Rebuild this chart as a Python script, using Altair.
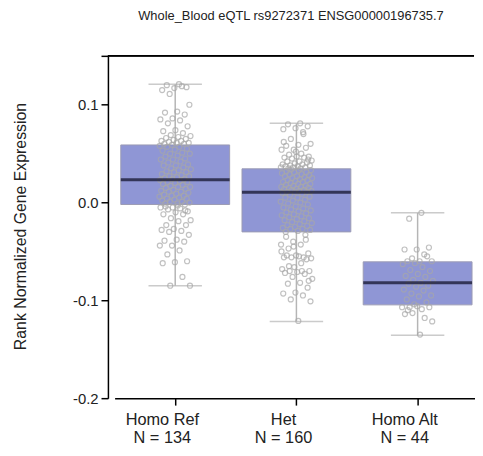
import altair as alt
import pandas as pd

genotypes = ["Homo Ref", "Het", "Homo Alt"]
counts = [134, 160, 44]
q1 = [-0.002, -0.030, -0.1046]
median = [0.0234, 0.0105, -0.082]
q3 = [0.0589, 0.0345, -0.0606]
whisk_lo = [-0.085, -0.1215, -0.1357]
whisk_hi = [0.121, 0.081, -0.0105]

homo_ref_vals = [
    0.121, 0.120, 0.118, 0.117, 0.115, 0.119, 0.111, 0.100, 0.093, 0.092,
    0.090, 0.086, 0.085, 0.084, 0.081, 0.078, 0.074, 0.073, 0.071, 0.069,
    0.068, 0.067, 0.066, 0.065, 0.064, 0.063, 0.063, 0.062, 0.061, 0.061,
    0.060, 0.060, 0.059,
    0.058, 0.057, 0.057, 0.055, 0.054, 0.053, 0.051, 0.050, 0.050, 0.048,
    0.047, 0.045, 0.044, 0.044, 0.042, 0.041, 0.039, 0.038, 0.038, 0.036,
    0.035, 0.034, 0.033, 0.032, 0.031, 0.031, 0.029, 0.028, 0.027, 0.027,
    0.026, 0.025, 0.024, 0.024,
    0.023, 0.022, 0.021, 0.021, 0.020, 0.019, 0.018, 0.017, 0.016, 0.016,
    0.015, 0.014, 0.013, 0.012, 0.011, 0.011, 0.010, 0.009, 0.008, 0.007,
    0.007, 0.006, 0.005, 0.004, 0.004, 0.003, 0.002, 0.001, 0.001, 0.000,
    -0.001, -0.001, -0.002,
    -0.005, -0.005, -0.006, -0.007, -0.009, -0.010, -0.012, -0.012, -0.016, -0.018,
    -0.019, -0.023, -0.023, -0.027, -0.028, -0.029, -0.030, -0.033, -0.038, -0.039,
    -0.040, -0.044, -0.044, -0.049, -0.053, -0.060, -0.061, -0.062, -0.076, -0.085,
    -0.085, -0.003, -0.004, -0.008,
]

het_vals = [
    0.081, 0.080, 0.078, 0.076, 0.075, 0.072, 0.065, 0.060, 0.059, 0.058,
    0.056, 0.054, 0.054, 0.050, 0.049, 0.047, 0.047, 0.046, 0.046, 0.045,
    0.043, 0.042, 0.042, 0.041, 0.040, 0.039, 0.039, 0.038, 0.038, 0.037,
    0.037, 0.036, 0.036, 0.036, 0.035, 0.035, 0.044, 0.052, 0.062, 0.070,
    0.034, 0.033, 0.033, 0.032, 0.031, 0.031, 0.030, 0.029, 0.029, 0.028,
    0.027, 0.027, 0.026, 0.025, 0.025, 0.024, 0.023, 0.023, 0.022, 0.021,
    0.021, 0.020, 0.019, 0.019, 0.018, 0.017, 0.017, 0.016, 0.016, 0.015,
    0.015, 0.014, 0.014, 0.013, 0.013, 0.012, 0.012, 0.011, 0.011, 0.011,
    0.010, 0.009, 0.008, 0.006, 0.005, 0.005, 0.003, 0.002, 0.001, 0.000,
    -0.001, -0.002, -0.004, -0.005, -0.006, -0.007, -0.008, -0.009, -0.010, -0.011,
    -0.012, -0.013, -0.014, -0.015, -0.016, -0.017, -0.018, -0.019, -0.020, -0.021,
    -0.022, -0.023, -0.024, -0.025, -0.026, -0.027, -0.027, -0.028, -0.029, -0.030,
    -0.033, -0.040, -0.043, -0.043, -0.047, -0.052, -0.054, -0.056, -0.056, -0.056,
    -0.057, -0.055, -0.054, -0.058, -0.066, -0.068, -0.070, -0.070, -0.070, -0.071,
    -0.072, -0.073, -0.076, -0.078, -0.082, -0.083, -0.087, -0.092, -0.093, -0.095,
    -0.099, -0.101, -0.121, -0.035, -0.038, -0.045, -0.050, -0.062, -0.065, -0.080,
]

homo_alt_vals = [
    -0.0105, -0.0165, -0.046, -0.048, -0.048, -0.053, -0.057, -0.060, -0.060, -0.060,
    -0.055,
    -0.062, -0.063, -0.066, -0.069, -0.070, -0.073, -0.075, -0.076, -0.079, -0.080,
    -0.082,
    -0.083, -0.085, -0.086, -0.089, -0.090, -0.093, -0.095, -0.096, -0.099, -0.102,
    -0.104,
    -0.107, -0.109, -0.107, -0.107, -0.106, -0.114, -0.118, -0.113, -0.1215, -0.135,
    -0.110,
]

stats = pd.DataFrame({
    "genotype": genotypes, "q1": q1, "median": median, "q3": q3,
    "lo": whisk_lo, "hi": whisk_hi,
})

pts = pd.DataFrame({
    "genotype": ["Homo Ref"] * len(homo_ref_vals) + ["Het"] * len(het_vals)
    + ["Homo Alt"] * len(homo_alt_vals),
    "value": homo_ref_vals + het_vals + homo_alt_vals,
})

label_map = " : ".join(
    f"datum.label == '{g}' ? ['{g}', 'N = {n}']" for g, n in zip(genotypes, counts)
) + " : datum.label"

xscale = alt.Scale(domain=genotypes, paddingInner=0, paddingOuter=0, range=[6.75, 374.25])
x_enc = alt.X(
    "genotype:N", scale=xscale, sort=genotypes, title=None,
    axis=alt.Axis(
        labelExpr=label_map, labelAngle=0, labelFontSize=16.5, labelLineHeight=17.5,
        labelPadding=7, labelOffset=-13, labelColor="#222222", tickSize=7,
        tickColor="black", tickWidth=1.5, domainColor="black", domainWidth=1.5,
    ),
)
yscale = alt.Scale(domain=[-0.2, 0.15], nice=False, zero=False)
y_axis = alt.Axis(
    values=[-0.2, -0.1, 0.0, 0.1, 0.15],
    labelExpr="datum.value > 0.12 ? '' : replace(format(datum.value, '.1f'), '\u2212', '-')",
    labelFontSize=15, labelColor="#222222", labelPadding=3, tickSize=7,
    tickColor="black", tickWidth=1.5, domainColor="black", domainWidth=1.5,
    grid=False, title="Rank Normalized Gene Expression", titleFontSize=16,
    titleFontWeight="normal", titleColor="#222222", titleX=-83, titleY=172,
    titleBaseline="alphabetic", titleAngle=270,
)

base = alt.Chart(stats)

whisker = base.mark_rule(color="#b5b5b5", strokeWidth=1.5).encode(
    x=x_enc, y=alt.Y("lo:Q", scale=yscale, axis=y_axis), y2="hi:Q"
)
cap_lo = base.mark_tick(color="#b5b5b5", size=54, thickness=1.5).encode(
    x=x_enc, y=alt.Y("lo:Q", scale=yscale)
)
cap_hi = base.mark_tick(color="#b5b5b5", size=54, thickness=1.5).encode(
    x=x_enc, y=alt.Y("hi:Q", scale=yscale)
)
box = base.mark_bar(size=110, color="#8f96d5", stroke="#9c9cb4", strokeWidth=1).encode(
    x=x_enc, y=alt.Y("q1:Q", scale=yscale), y2="q3:Q"
)
points = alt.Chart(pts).transform_window(
    row="row_number()", groupby=["genotype"]
).transform_calculate(
    jit="((datum.row * 0.6180339887) % 1) - 0.5"
).mark_point(shape="circle", filled=False, size=26, color="#a8a8a8", strokeWidth=1.2).encode(
    x=x_enc,
    xOffset=alt.XOffset("jit:Q", scale=alt.Scale(domain=[-1.9, 1.9])),
    y=alt.Y("value:Q", scale=yscale),
)
med = base.mark_tick(color="#0c0c22", size=110, thickness=3).encode(
    x=x_enc, y=alt.Y("median:Q", scale=yscale)
)
topline = base.mark_rule(color="black", strokeWidth=1.5).encode(y=alt.datum(0.15))

chart = alt.layer(whisker, cap_lo, cap_hi, box, points, med, topline).properties(
    width=370, height=346,
    title=alt.TitleParams(
        "Whole_Blood eQTL rs9272371 ENSG00000196735.7", fontSize=13,
        fontWeight="normal", color="#222222", offset=32, anchor="middle",
        frame="group",
    ),
    padding={"left": 5, "top": 0, "right": 0, "bottom": 0},
).configure(font="Liberation Sans").configure_view(stroke=None)

chart.save("out.html", embed_options={"renderer": "svg", "actions": False})
